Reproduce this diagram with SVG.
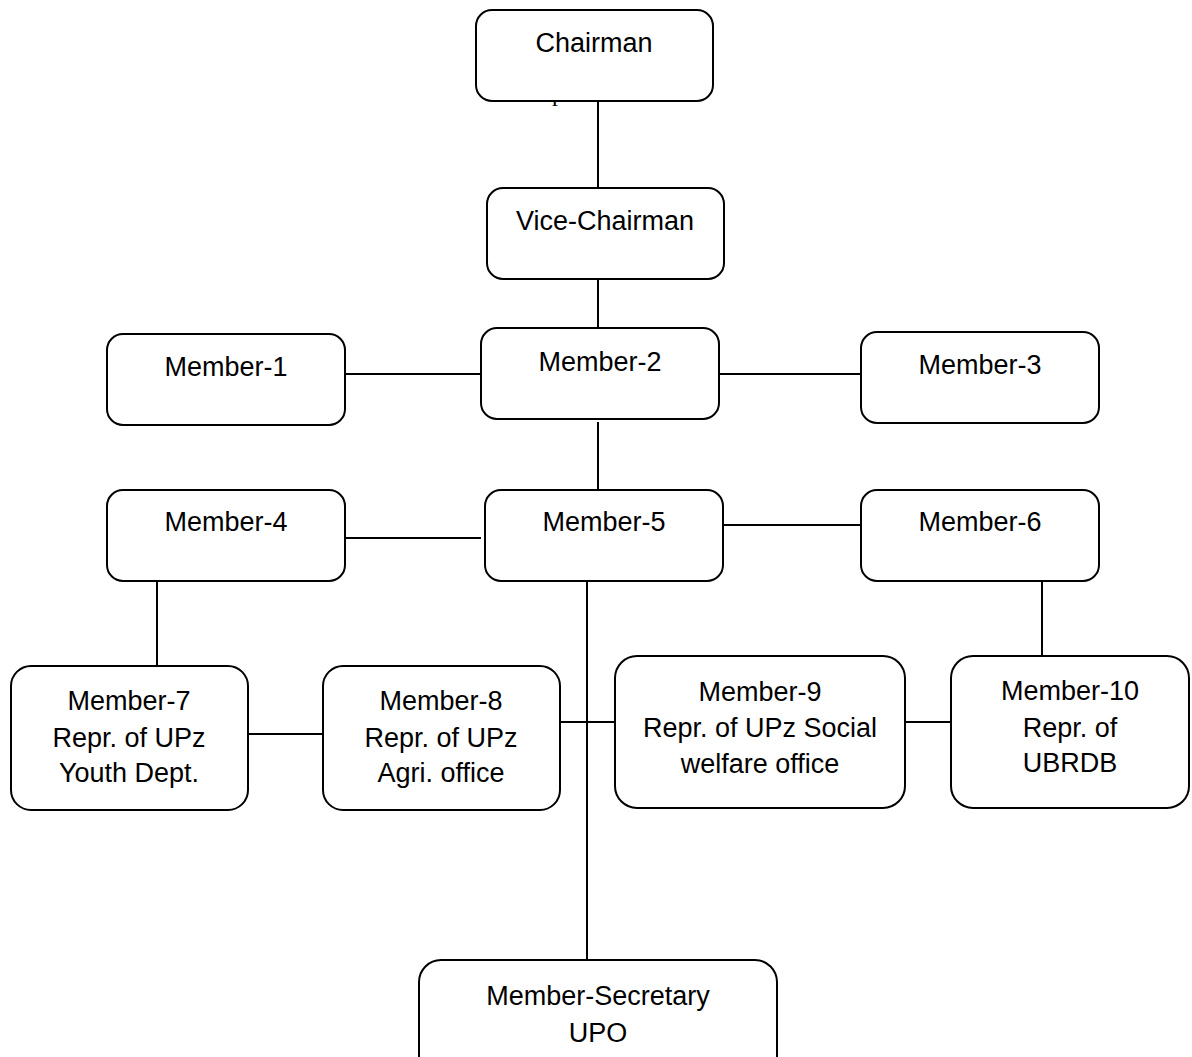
<svg xmlns="http://www.w3.org/2000/svg" width="1192" height="1057" viewBox="0 0 1192 1057">
<style>
.box{fill:#fff;stroke:#000;stroke-width:2}
.t{font-family:"Liberation Sans",Arial,sans-serif;font-size:27px;fill:#000;text-anchor:middle}
.c line{stroke:#000;stroke-width:2}
</style>
<rect width="1192" height="1057" fill="#fff"/>
<text x="552" y="101" font-family="Liberation Serif,serif" font-size="24">p</text>
<g class="c" id="connectors">
<line x1="598" y1="101" x2="598" y2="188"/>
<line x1="598" y1="279" x2="598" y2="328"/>
<line x1="345" y1="374" x2="487" y2="374"/>
<line x1="719" y1="374" x2="861" y2="374"/>
<line x1="598" y1="422" x2="598" y2="490"/>
<line x1="345" y1="538" x2="481" y2="538"/>
<line x1="723" y1="525" x2="861" y2="525"/>
<line x1="157" y1="581" x2="157" y2="666"/>
<line x1="1042" y1="581" x2="1042" y2="656"/>
<line x1="587" y1="581" x2="587" y2="960"/>
<line x1="248" y1="734" x2="323" y2="734"/>
<line x1="560" y1="722" x2="615" y2="722"/>
<line x1="905" y1="722" x2="951" y2="722"/>
</g>
<g id="chairman"><rect class="box" x="476" y="10" width="237" height="91" rx="16"/><text class="t" x="594" y="52">Chairman</text></g>
<g id="vice"><rect class="box" x="487" y="188" width="237" height="91" rx="16"/><text class="t" x="605" y="230">Vice-Chairman</text></g>
<g id="m1"><rect class="box" x="107" y="334" width="238" height="91" rx="16"/><text class="t" x="226" y="376">Member-1</text></g>
<g id="m2"><rect class="box" x="481" y="328" width="238" height="91" rx="16"/><text class="t" x="600" y="371">Member-2</text></g>
<g id="m3"><rect class="box" x="861" y="332" width="238" height="91" rx="16"/><text class="t" x="980" y="374">Member-3</text></g>
<g id="m4"><rect class="box" x="107" y="490" width="238" height="91" rx="16"/><text class="t" x="226" y="531">Member-4</text></g>
<g id="m5"><rect class="box" x="485" y="490" width="238" height="91" rx="16"/><text class="t" x="604" y="531">Member-5</text></g>
<g id="m6"><rect class="box" x="861" y="490" width="238" height="91" rx="16"/><text class="t" x="980" y="531">Member-6</text></g>
<g id="m7"><rect class="box" x="11" y="666" width="237" height="144" rx="20"/><text class="t" x="129" y="710">Member-7</text><text class="t" x="129" y="747">Repr. of UPz</text><text class="t" x="129" y="782">Youth Dept.</text></g>
<g id="m8"><rect class="box" x="323" y="666" width="237" height="144" rx="20"/><text class="t" x="441" y="710">Member-8</text><text class="t" x="441" y="747">Repr. of UPz</text><text class="t" x="441" y="782">Agri. office</text></g>
<g id="m9"><rect class="box" x="615" y="656" width="290" height="152" rx="22"/><text class="t" x="760" y="701">Member-9</text><text class="t" x="760" y="737">Repr. of UPz Social</text><text class="t" x="760" y="773">welfare office</text></g>
<g id="m10"><rect class="box" x="951" y="656" width="238" height="152" rx="22"/><text class="t" x="1070" y="700">Member-10</text><text class="t" x="1070" y="737">Repr. of</text><text class="t" x="1070" y="772">UBRDB</text></g>
<g id="secretary"><rect class="box" x="419" y="960" width="358" height="120" rx="22"/><text class="t" x="598" y="1005">Member-Secretary</text><text class="t" x="598" y="1042">UPO</text></g>
</svg>
